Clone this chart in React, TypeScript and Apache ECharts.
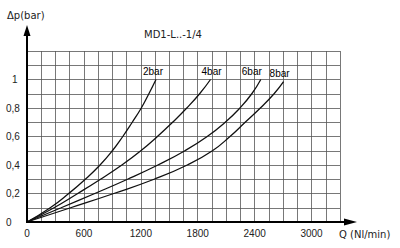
import React, { useEffect, useRef } from "react";
import * as echarts from "echarts";

const dpLevels = [0, 0.1, 0.2, 0.3, 0.4, 0.5, 0.6, 0.7, 0.8, 0.9, 1.0];
const dp8bar = [0, 0.1, 0.2, 0.3, 0.4, 0.5, 0.6, 0.7, 0.8, 0.9, 0.985];
const q2bar = [0, 245, 440, 615, 770, 900, 1010, 1110, 1205, 1285, 1360];
const q4bar = [0, 285, 535, 775, 1000, 1200, 1375, 1535, 1685, 1820, 1935];
const q6bar = [0, 360, 715, 1060, 1380, 1665, 1900, 2090, 2245, 2370, 2465];
const q8bar = [0, 460, 915, 1340, 1690, 1955, 2140, 2300, 2460, 2605, 2705];
const seriesNames = ["2bar", "4bar", "6bar", "8bar"];
const xTickLabels = [0, 600, 1200, 1800, 2400, 3000];
const yTickLabels = ["0", "0,2", "0,4", "0,6", "0,8", "1"];
const title = "MD1-L..-1/4";
const yName = "Δp(bar)";
const xName = "Q (Nl/min)";

const X_MAX = 3300;
const Y_MAX = 1.2;

const GL = 27;
const GT = 51;
const GW = 313;
const GH = 171;
const FONT = "'Liberation Sans', Arial, sans-serif";
const FONT2 = "'DejaVu Sans', sans-serif";

export default function App() {
  const ref = useRef<HTMLDivElement>(null);
  useEffect(() => {
    if (!ref.current) return;
    const chart = echarts.init(ref.current, null, { renderer: "svg" });
    const curves = [
      { name: seriesNames[0], q: q2bar, dp: dpLevels, off: [-3, 0] },
      { name: seriesNames[1], q: q4bar, dp: dpLevels, off: [1, 0] },
      { name: seriesNames[2], q: q6bar, dp: dpLevels, off: [-9, 0] },
      { name: seriesNames[3], q: q8bar, dp: dp8bar, off: [-4, 0] },
    ];
    const bottom = GT + GH;
    const lineSeries = curves.map((c) => ({
      type: "line",
      name: c.name,
      smooth: 0.5,
      symbol: "none",
      lineStyle: { color: "#111", width: 1.3 },
      data: c.q.map((q, i) => [q, c.dp[i]]),
    }));
    const labelSeries = {
      type: "scatter",
      name: "labels",
      symbolSize: 0,
      itemStyle: { color: "#000" },
      data: curves.map((c) => ({
        value: [c.q[c.q.length - 1], c.dp[c.dp.length - 1]],
        label: {
          show: true,
          position: "top",
          distance: 3,
          offset: c.off,
          formatter: c.name,
          color: "#000",
          opacity: 1,
          fontSize: 10,
          fontFamily: FONT,
        },
      })),
    };
    chart.setOption({
      animation: false,
      backgroundColor: "#ffffff",
      grid: { left: GL, top: GT, width: GW, height: GH, containLabel: false },
      xAxis: {
        type: "value",
        min: 0,
        max: X_MAX,
        interval: 150,
        axisLine: { show: false },
        axisTick: { show: false },
        splitLine: { show: true, lineStyle: { color: "#555", width: 0.8 } },
        axisLabel: {
          margin: 6,
          color: "#222",
          fontSize: 10,
          fontFamily: FONT,
          showMaxLabel: false,
          formatter: (v: number) =>
            xTickLabels.indexOf(Math.round(v)) >= 0 ? String(Math.round(v)) : "",
        },
      },
      yAxis: {
        type: "value",
        min: 0,
        max: Y_MAX,
        interval: 0.1,
        axisLine: { show: false },
        axisTick: { show: false },
        splitLine: { show: true, lineStyle: { color: "#555", width: 0.8 } },
        axisLabel: {
          margin: 21,
          align: "left",
          color: "#222",
          fontSize: 10,
          fontFamily: FONT,
          formatter: (v: number) => {
            const k = Math.round(v * 10);
            if (k % 2 !== 0 || k > 10) return "";
            const s = yTickLabels[k / 2];
            return s === "1" ? "{one|1}" : s;
          },
          rich: { one: { padding: [0, 0, 0, 6], fontSize: 10, color: "#222", fontFamily: FONT } },
        },
      },
      series: [...lineSeries, labelSeries],
      graphic: [
        {
          type: "line",
          shape: { x1: GL - 1, y1: bottom, x2: 346, y2: bottom },
          style: { stroke: "#000", lineWidth: 2 },
          z: 100,
        },
        {
          type: "polygon",
          shape: { points: [[357, bottom], [344, bottom - 3.5], [344, bottom + 3.5]] },
          style: { fill: "#000" },
          z: 100,
        },
        {
          type: "line",
          shape: { x1: GL, y1: bottom + 1, x2: GL, y2: 34 },
          style: { stroke: "#000", lineWidth: 2 },
          z: 100,
        },
        {
          type: "polygon",
          shape: { points: [[GL, 25], [GL - 3.5, 36], [GL + 3.5, 36]] },
          style: { fill: "#000" },
          z: 100,
        },
        {
          type: "text",
          x: 173,
          y: 34,
          style: { text: title, fill: "#222", font: `10px ${FONT2}`, textAlign: "center", textVerticalAlign: "middle" },
        },
        {
          type: "text",
          x: 7,
          y: 15,
          style: { text: yName, fill: "#222", font: `10px ${FONT2}`, textAlign: "left", textVerticalAlign: "middle" },
        },
        {
          type: "text",
          x: 339,
          y: 234,
          style: { text: xName, fill: "#222", font: `10px ${FONT2}`, textAlign: "left", textVerticalAlign: "middle" },
        },
      ],
    });
    return () => chart.dispose();
  }, []);
  return (
    <div
      ref={ref}
      style={{ position: "fixed", left: 0, top: 0, width: 400, height: 248, background: "#fff" }}
    />
  );
}
